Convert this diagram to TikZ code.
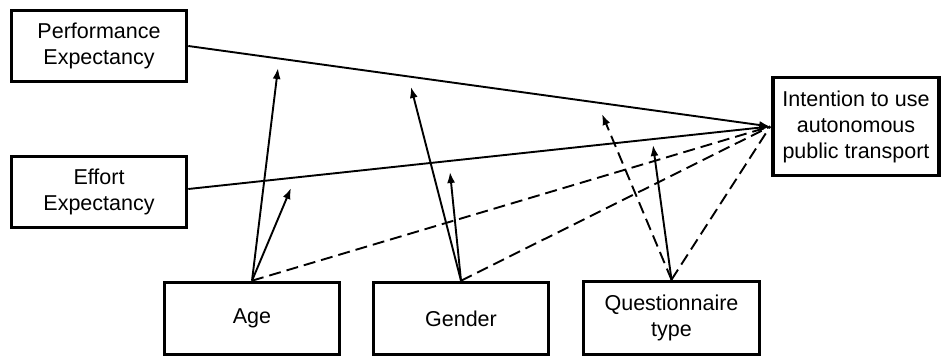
\documentclass[tikz,border=0pt]{standalone}
\usepackage{fontspec}
\setmainfont{Liberation Sans}
\usetikzlibrary{arrows.meta}
\begin{document}
\begin{tikzpicture}[x=1pt,y=-1pt,
  box/.style={draw=black, line width=3.6pt, rectangle, align=center, inner sep=0pt,
    font=\fontsize{21.5}{26}\selectfont},
  conn/.style={draw=black, line width=1.9pt},
  tip/.style={-{Latex[length=11pt,width=8pt]}},
  dsh/.style={dash pattern=on 12pt off 6pt}]
\useasboundingbox (0,0) rectangle (942,358);
\node[box, minimum width=175pt, minimum height=71pt] (perf) at (99,46) {Performance\\Expectancy};
\node[box, minimum width=175pt, minimum height=71pt] (eff) at (99,192) {Effort\\Expectancy};
\node[box, minimum width=175pt, minimum height=72pt] (age) at (252,318.5) {Age};
\node[box, minimum width=175pt, minimum height=72pt] (gen) at (461,318.5) {Gender};
\node[box, minimum width=176pt, minimum height=73pt] (que) at (671.5,318) {Questionnaire\\type};
\node[box, minimum width=166pt, minimum height=98pt] (int) at (856,126.5) {Intention to use\\autonomous\\public transport};
\coordinate (a1) at (278,68);
\coordinate (a2) at (291,188);
\coordinate (g1) at (411,87);
\coordinate (g2) at (450,172);
\coordinate (q1) at (602,114);
\coordinate (q2) at (653,145);
\coordinate (hub) at ([xshift=-1pt]int.west);
\draw[conn,tip] (perf.east) -- (hub);
\draw[conn,tip] ([yshift=3pt]eff.east) -- (hub);
\draw[conn,tip] (age.north) -- (a1);
\draw[conn,tip] (age.north) -- (a2);
\draw[conn,dsh] (age.north) -- (hub);
\draw[conn,tip] (gen.north) -- (g1);
\draw[conn,tip] (gen.north) -- (g2);
\draw[conn,dsh] (gen.north) -- (hub);
\draw[conn,dsh,tip] (que.north) -- (q1);
\draw[conn,tip] (que.north) -- (q2);
\draw[conn,dsh] (que.north) -- (hub);
\end{tikzpicture}
\end{document}
